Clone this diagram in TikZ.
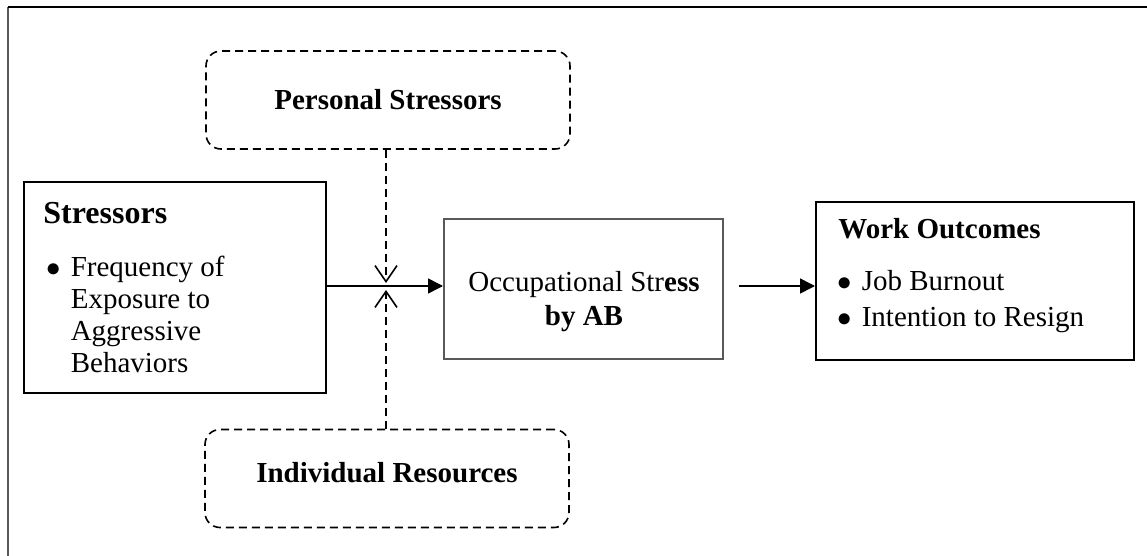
\documentclass[tikz,border=0pt]{standalone}
\usepackage{fontspec}
\setmainfont{Liberation Serif}
\usetikzlibrary{arrows.meta}

\begin{document}
\begin{tikzpicture}[x=0.5pt,y=-0.5pt,
    solidbox/.style={draw=black,line width=1pt,inner sep=0pt},
    dashbox/.style={draw=black,line width=0.8pt,dash pattern=on 4pt off 2.5pt,rounded corners=7.5pt,inner sep=0pt,
      minimum width=182pt,minimum height=49pt,font=\fontsize{14.5}{17}\selectfont\bfseries},
    head/.style={inner sep=0pt,anchor=base west},
    body/.style={inner sep=0pt,anchor=base west},
    flow/.style={line width=0.8pt,-{Triangle[length=7.5pt,width=7.5pt]}},
    moderate/.style={line width=0.8pt,dash pattern=on 4pt off 2.5pt,-{Straight Barb[length=8pt,width=11pt]}}]
  \useasboundingbox (0,0) rectangle (1147,556);
  % frame
  \draw[gray!70!black,line width=1pt] (8,556) -- (8,7);
  \draw[black,line width=1pt] (8,7) -- (1147,7);

  % boxes
  \node[solidbox,minimum width=151pt,minimum height=105.5pt] (stressors) at (175,287.5) {};
  \node[solidbox,draw=gray!70!black,minimum width=139.5pt,minimum height=70pt] (occbox) at (583.5,289) {};
  \node[solidbox,minimum width=159pt,minimum height=79pt] (outcomes) at (975,281) {};
  \node[dashbox] (personal) at (388,100) {Personal Stressors};
  \node[dashbox,text depth=6.5pt] (individual) at (387,478.5) {Individual Resources};

  % texts
  \node[head,font=\fontsize{16}{19}\selectfont\bfseries] (stresstitle) at (43,223) {Stressors};
  \node[body,font=\fontsize{14.5}{16}\selectfont] (stresslist) at (46,277)
    {\begin{tabular}[t]{@{}l@{\hspace{5pt}}l@{}}
      $\bullet$ & Frequency of\\
                & Exposure to\\
                & Aggressive\\
                & Behaviors
    \end{tabular}};
  \node[font=\fontsize{14.5}{17}\selectfont,align=center,inner sep=0pt] (occlabel) at (584,302)
    {Occupational Str\textbf{ess}\\\textbf{by AB}};
  \node[head,font=\fontsize{14.5}{17}\selectfont\bfseries] (outtitle) at (838,239) {Work Outcomes};
  \node[body,font=\fontsize{14.5}{18}\selectfont] (outlist) at (837,290)
    {\begin{tabular}[t]{@{}l@{\hspace{5pt}}l@{}}
      $\bullet$ & Job Burnout\\
      $\bullet$ & Intention to Resign
    \end{tabular}};

  % connectors
  \coordinate (mid) at (0,286);
  \coordinate (upper) at (386,283);
  \coordinate (lower) at (386,290);
  \draw[flow] (stressors.east |- mid) -- (occbox.west |- mid);
  \draw[flow,shorten <=7.5pt] (occbox.east |- mid) -- (outcomes.west |- mid);
  \draw[moderate] (personal.south -| upper) -- (upper);
  \draw[moderate] (individual.north -| lower) -- (lower);
\end{tikzpicture}
\end{document}
